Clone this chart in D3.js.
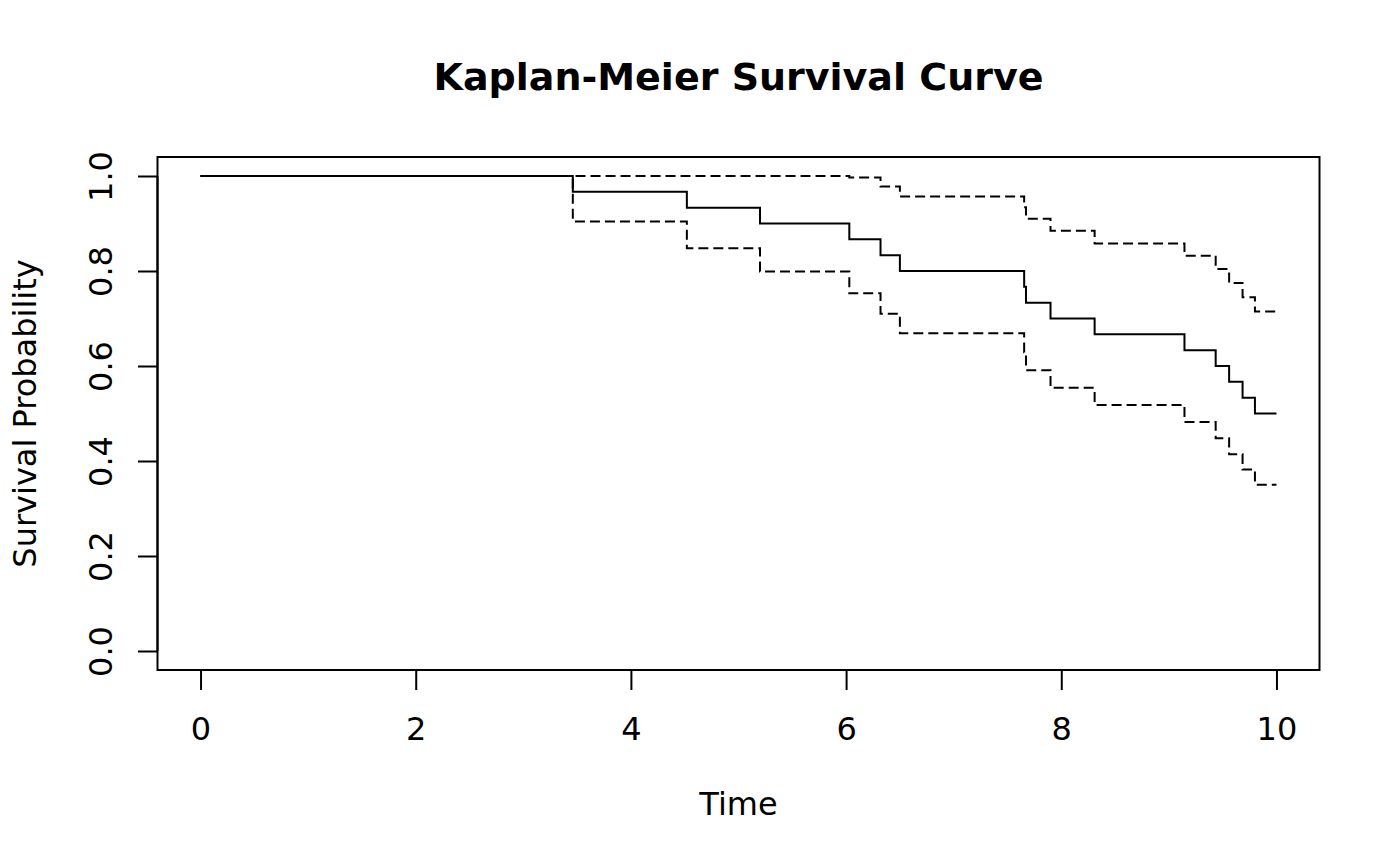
<!DOCTYPE html>
<html>
<head>
<meta charset="utf-8">
<script src="https://cdn.jsdelivr.net/npm/d3@7"></script>
<style>
  body { margin: 0; background: #fff; }
  text { font-family: "DejaVu Sans", sans-serif; fill: #000; }
</style>
</head>
<body>
<div id="km_plot"></div>
<script>
// step times (event times, last one is the end of follow-up)
var times = [0, 3.46, 4.52, 5.20, 6.03, 6.32, 6.50, 7.655, 7.672, 7.90, 8.31, 9.145, 9.435, 9.56, 9.685, 9.80, 10];
// survival estimate and confidence band
var survival = [1, 0.967, 0.933, 0.900, 0.867, 0.833, 0.800, 0.767, 0.733, 0.700, 0.667, 0.633, 0.600, 0.567, 0.533, 0.500, 0.500];
var upper = [1, 1, 1, 1, 0.997, 0.978, 0.957, 0.934, 0.910, 0.885, 0.858, 0.832, 0.804, 0.775, 0.745, 0.715, 0.715];
var lower = [1, 0.904, 0.848, 0.799, 0.753, 0.710, 0.669, 0.629, 0.591, 0.554, 0.518, 0.482, 0.448, 0.414, 0.382, 0.350, 0.350];

var xTicks = [0, 2, 4, 6, 8, 10];
var yTicks = [0, 0.2, 0.4, 0.6, 0.8, 1.0];

// set the dimensions and margins of the graph
var W = 1400, H = 866;
var margin = {top: 157, right: 80.5, bottom: 196, left: 157.5},
    width = W - margin.left - margin.right,
    height = H - margin.top - margin.bottom;

var svg = d3.select("#km_plot")
  .append("svg")
    .attr("width", W)
    .attr("height", H)
  .append("g")
    .attr("transform", "translate(" + margin.left + "," + margin.top + ")");

// R style axis limits: data range plus 4% each side
var x = d3.scaleLinear()
  .domain([-0.4, 10.4])
  .range([0, width]);

var y = d3.scaleLinear()
  .domain([-0.04, 1.04])
  .range([height, 0]);

// X axis
var xAxis = svg.append("g")
  .attr("transform", "translate(0," + height + ")")
  .call(d3.axisBottom(x).tickValues(xTicks).tickSize(20).tickPadding(27).tickFormat(d3.format("d")));

// Y axis
var yAxis = svg.append("g")
  .call(d3.axisLeft(y).tickValues(yTicks).tickSize(19.5).tickFormat(d3.format(".1f")));

[xAxis, yAxis].forEach(function(g) {
  g.select(".domain")
    .attr("stroke-width", 2);
  g.selectAll(".tick line")
    .attr("stroke-width", 2);
  g.selectAll("text")
    .style("font-size", "32px")
    .style("font-family", "DejaVu Sans, sans-serif")
    .attr("fill", "#000");
});

// the axis line only spans first..last tick like R does
xAxis.select(".domain").attr("d", "M" + x(0) + ",0H" + x(10));
yAxis.select(".domain").attr("d", "M0," + y(0) + "V" + y(1));

// rotate y tick labels (parallel to axis)
yAxis.selectAll(".tick text")
  .attr("x", null)
  .attr("dy", null)
  .attr("text-anchor", "middle")
  .attr("transform", "translate(" + (112 - margin.left) + ",0) rotate(-90)");

// plot box
svg.append("rect")
  .attr("x", 0)
  .attr("y", 0)
  .attr("width", width)
  .attr("height", height)
  .attr("fill", "none")
  .attr("stroke", "#000")
  .attr("stroke-width", 2);

// step lines
function stepLine(values) {
  return d3.line()
    .curve(d3.curveStepAfter)
    .x(function(d, i) { return x(times[i]); })
    .y(function(d) { return y(d); })(values);
}

svg.append("path")
  .attr("d", stepLine(upper))
  .attr("fill", "none")
  .attr("stroke", "#000")
  .attr("stroke-width", 2)
  .attr("stroke-dasharray", "10,5");

svg.append("path")
  .attr("d", stepLine(lower))
  .attr("fill", "none")
  .attr("stroke", "#000")
  .attr("stroke-width", 2)
  .attr("stroke-dasharray", "10,5");

svg.append("path")
  .attr("d", stepLine(survival))
  .attr("fill", "none")
  .attr("stroke", "#000")
  .attr("stroke-width", 2);

// title and axis titles
svg.append("text")
  .attr("x", width / 2)
  .attr("y", 90 - margin.top)
  .attr("text-anchor", "middle")
  .style("font-size", "38px")
  .style("font-weight", "bold")
  .text("Kaplan-Meier Survival Curve");

svg.append("text")
  .attr("x", width / 2)
  .attr("y", 815 - margin.top)
  .attr("text-anchor", "middle")
  .style("font-size", "32px")
  .text("Time");

svg.append("text")
  .attr("transform", "translate(" + (36 - margin.left) + "," + (height / 2) + ") rotate(-90)")
  .attr("text-anchor", "middle")
  .style("font-size", "32px")
  .text("Survival Probability");
</script>
</body>
</html>
